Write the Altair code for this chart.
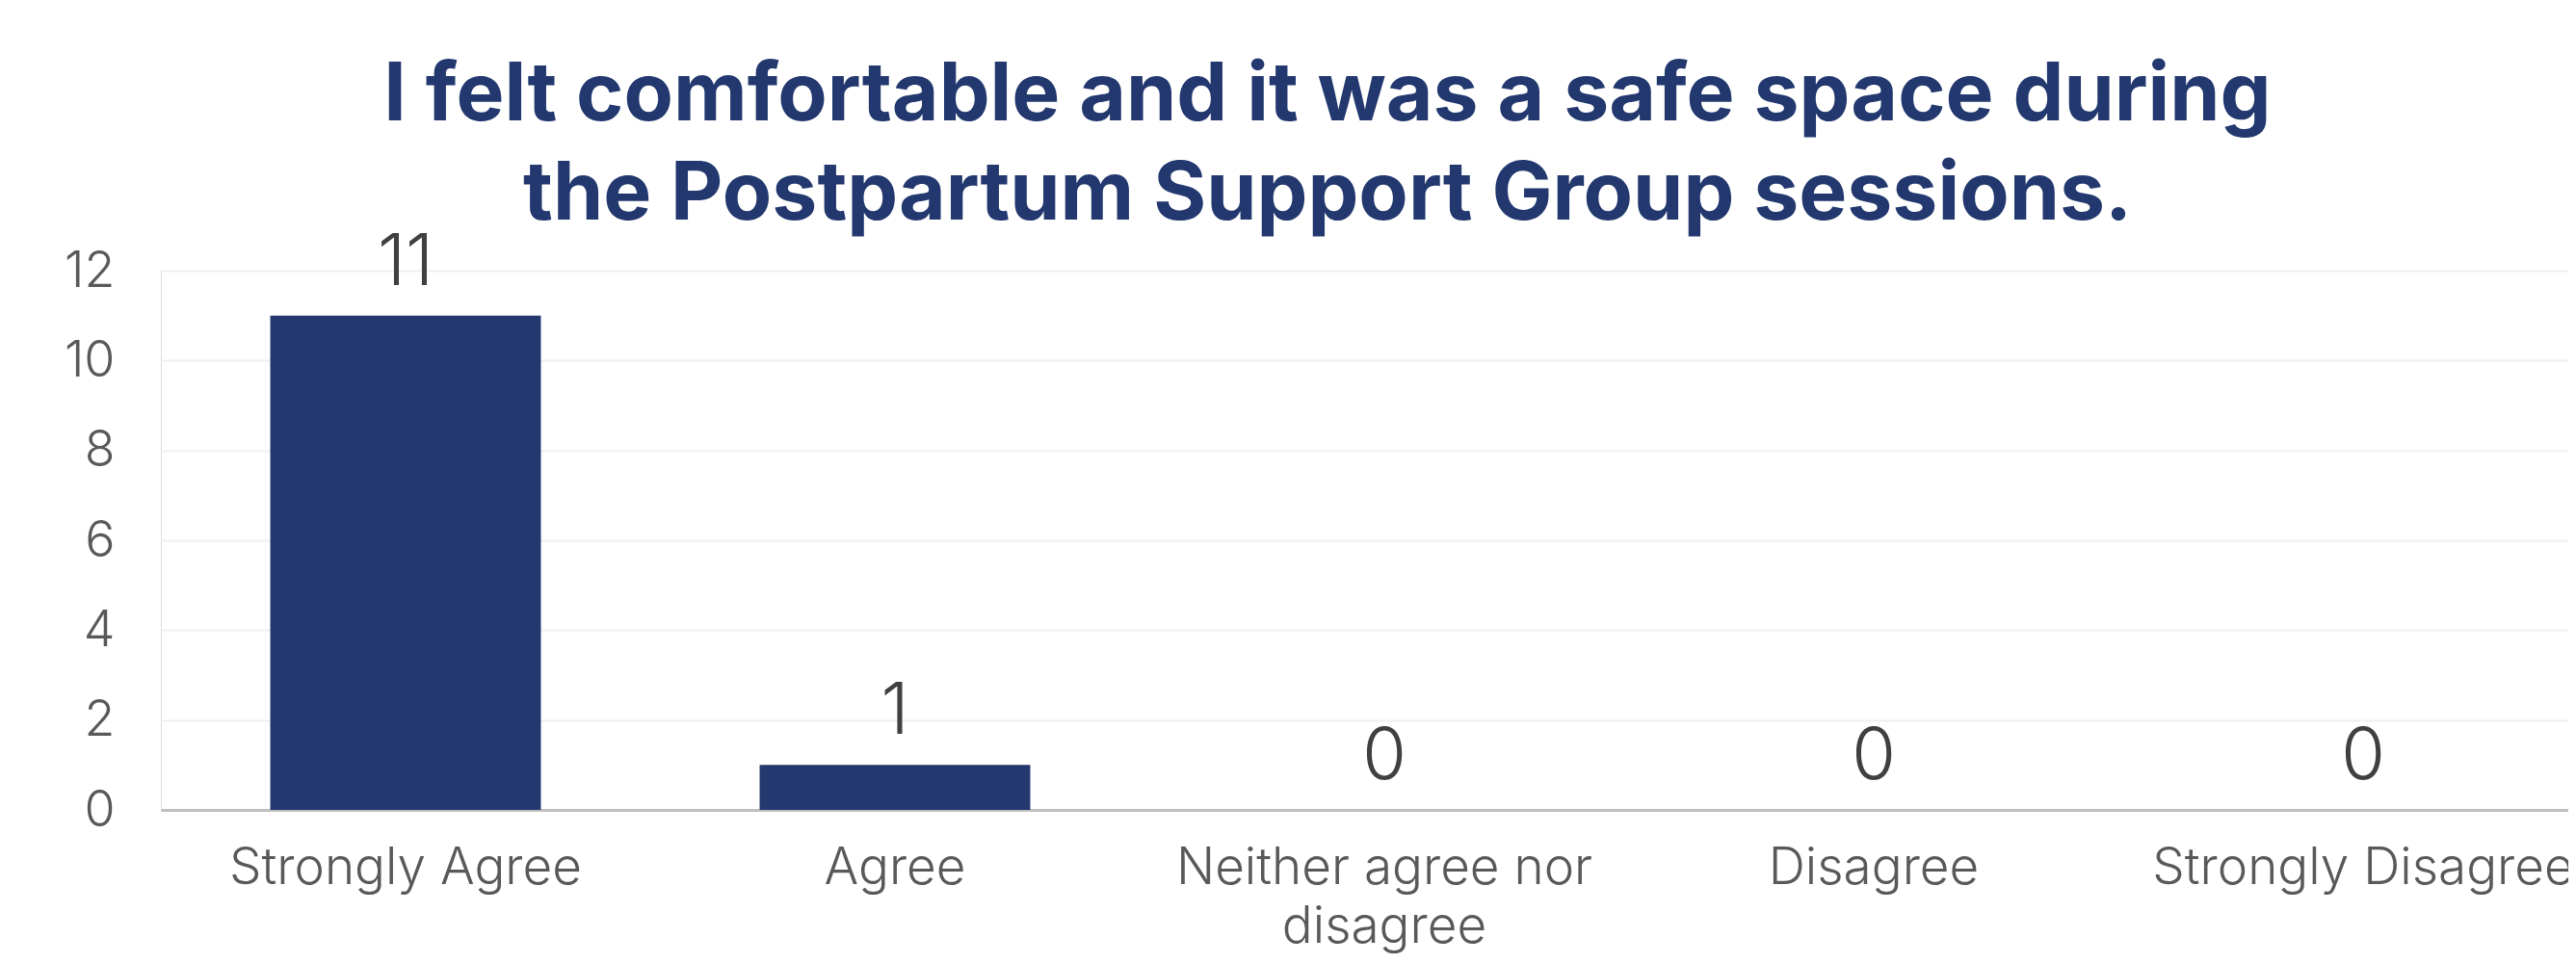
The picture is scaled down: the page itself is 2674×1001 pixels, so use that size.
import altair as alt
import pandas as pd

categories = ["Strongly Agree", "Agree", "Neither agree nor disagree", "Disagree", "Strongly Disagree"]
counts = [11, 1, 0, 0, 0]
y_ticks = [0, 2, 4, 6, 8, 10, 12]
title_lines = ["I felt comfortable and it was a safe space during",
               "the Postpartum Support Group sessions."]

df = pd.DataFrame({"category": categories, "count": counts})

FONT = "Inter"

base = alt.Chart(df).encode(
    x=alt.X(
        "category:N",
        sort=categories,
        title=None,
        scale=alt.Scale(paddingInner=0.447, paddingOuter=0.2235),
        axis=alt.Axis(
            labelAngle=0,
            labelFont=FONT,
            labelFontWeight=300,
            labelFontSize=53,
            labelColor="#595959",
            labelPadding=34,
            labelLineHeight=61,
            labelLimit=2000,
            labelOverlap=False,
            labelExpr="datum.label == 'Neither agree nor disagree' ? ['Neither agree nor', 'disagree'] : datum.label",
            ticks=False,
            domain=True,
            domainColor="#BFBFBF",
            domainWidth=3,
            grid=False,
        ),
    )
)

bars = base.mark_bar(color="#23386E").encode(
    y=alt.Y(
        "count:Q",
        title=None,
        scale=alt.Scale(domain=[0, 12], nice=False),
        axis=alt.Axis(
            values=y_ticks,
            labelFont=FONT,
            labelFontWeight=300,
            labelFontSize=52,
            labelColor="#595959",
            labelPadding=48,
            labelLimit=1000,
            ticks=False,
            domain=False,
            grid=True,
            gridColor="#F0F0F0",
            gridWidth=2,
        ),
    )
)

labels = base.mark_text(
    baseline="bottom",
    dy=-16,
    font=FONT,
    fontWeight=300,
    fontSize=74,
    color="#404040",
).encode(
    y=alt.Y("count:Q"),
    text=alt.Text("count:Q"),
)

chart = (
    alt.layer(bars, labels)
    .properties(
        width=2540,
        height=560,
        title=alt.TitleParams(
            text=title_lines,
            font=FONT,
            fontWeight=700,
            fontSize=84,
            color="#22386E",
            lineHeight=103,
            anchor="middle",
            frame="group",
            dx=-59,
            dy=49,
            offset=40,
        ),
        autosize=alt.AutoSizeParams(type="none"),
        padding={"left": 159, "top": 273, "right": -41, "bottom": 152},
    )
    .configure_view(stroke=None)
    .configure(background="white")
)

chart.save("out.html", embed_options={"renderer": "svg", "actions": False})
